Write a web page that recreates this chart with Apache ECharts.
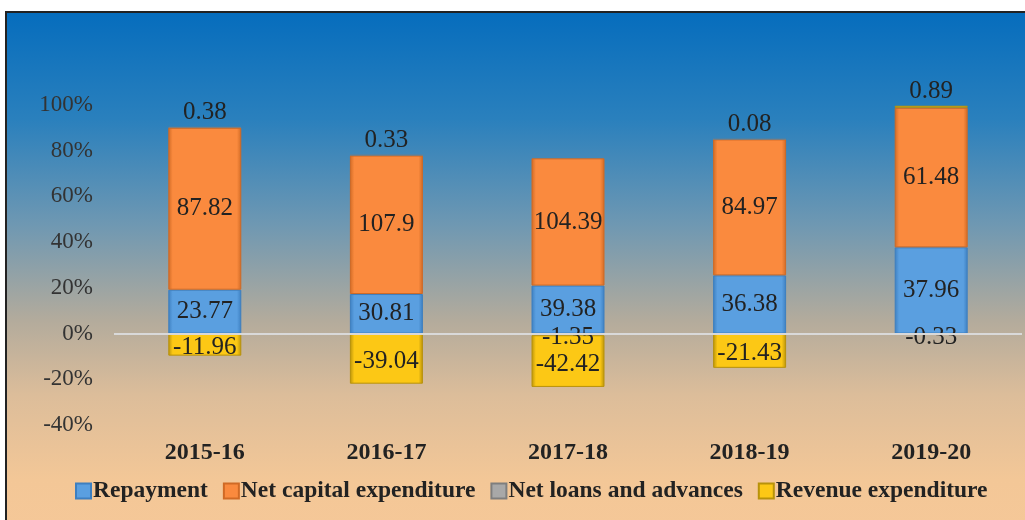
<!DOCTYPE html>
<html>
<head>
<meta charset="utf-8">
<script src="https://cdn.jsdelivr.net/npm/echarts@6/dist/echarts.min.js"></script>
<style>
    html, body { margin: 0; padding: 0; background: #fff; overflow: hidden; }
    .frame {
        position: absolute; left: 5px; top: 11px; width: 1040px; height: 530px;
        border: 2px solid #222;
        background: linear-gradient(to bottom, #066dbd 0%, #2a80bd 20%, #6f98b2 40%, #b3ab9c 58%, #dcbd9a 72%, #f3c797 88%, #f6c898 100%);
    }
    #chart { position: absolute; left: 0; top: 0; width: 1025px; height: 520px; }
</style>
</head>
<body>
<div class="frame"></div>
<div id="chart"></div>
<script>
    var years = ['2015-16', '2016-17', '2017-18', '2018-19', '2019-20'];
    var repayment = [23.77, 30.81, 39.38, 36.38, 37.96];
    var netCapital = [87.82, 107.9, 104.39, 84.97, 61.48];
    var netLoans = [0.38, 0.33, -1.35, 0.08, -0.33];
    var revenue = [-11.96, -39.04, -42.42, -21.43, 0.89];
    var yTicks = [-40, -20, 0, 20, 40, 60, 80, 100];

    // 100% stacked: each value as share of the column's absolute total
    var totals = years.map(function(y, i) {
        return Math.abs(repayment[i]) + Math.abs(netCapital[i]) + Math.abs(netLoans[i]) + Math.abs(revenue[i]);
    });
    function toShare(arr, small) {
        return arr.map(function(v, i) {
            var item = { value: v / totals[i] * 100, raw: v };
            if (small) {
                item.label = v >= 0 ? { position: 'top', distance: 2 } : { position: 'inside', offset: [0, 3] };
            }
            return item;
        });
    }

    var font = '"Liberation Serif", "Times New Roman", serif';
    var labelStyle = {
        show: true,
        position: 'inside',
        fontFamily: font,
        fontSize: 25,
        color: '#222',
        formatter: function(p) { return p.data.raw; }
    };

    function bar(name, data, color, border, small) {
        return {
            name: name,
            type: 'bar',
            stack: 'total',
            barWidth: 73,
            data: toShare(data, small),
            label: labelStyle,
            itemStyle: {
                color: {
                    type: 'linear', x: 0, y: 0, x2: 1, y2: 0,
                    colorStops: [
                        { offset: 0, color: border },
                        { offset: 0.06, color: color },
                        { offset: 0.94, color: color },
                        { offset: 1, color: border }
                    ]
                },
                borderColor: border,
                borderWidth: 1
            }
        };
    }

    var myChart = echarts.init(document.getElementById('chart'));
    var option = {
        backgroundColor: 'transparent',
        animation: false,
        grid: { left: 114, right: 3, top: 105, bottom: 95 },
        legend: {
            bottom: 12,
            left: 70,
            itemWidth: 15,
            itemHeight: 15,
            itemGap: 15,
            icon: 'rect',
            textStyle: { fontFamily: font, fontSize: 23.5, fontWeight: 'bold', color: '#222', padding: [0, 0, 0, -3] },
            data: ['Repayment', 'Net capital expenditure', 'Net loans and advances', 'Revenue expenditure']
        },
        xAxis: {
            type: 'category',
            data: years,
            axisLine: { show: false },
            axisTick: { show: false },
            axisLabel: { fontFamily: font, fontSize: 24, fontWeight: 'bold', color: '#222', margin: 16 }
        },
        yAxis: {
            type: 'value',
            min: yTicks[0],
            max: yTicks[yTicks.length - 1],
            interval: 20,
            splitLine: { show: false },
            axisLine: { show: false },
            axisTick: { show: false },
            axisLabel: { fontFamily: font, fontSize: 23, color: '#333', margin: 21, formatter: '{value}%' }
        },
        series: [
            bar('Repayment', repayment, '#5a9fe0', '#3d7fc0', false),
            bar('Net capital expenditure', netCapital, '#fa8a3e', '#d06a25', false),
            bar('Net loans and advances', netLoans, '#a8a8a8', '#7e7e7e', true),
            bar('Revenue expenditure', revenue, '#fcc815', '#b8920a', true)
        ]
    };
    option.series[0].markLine = {
        silent: true,
        symbol: 'none',
        label: { show: false },
        lineStyle: { color: '#d9d9d9', width: 2, type: 'solid' },
        data: [{ yAxis: 0 }]
    };
    myChart.setOption(option);
</script>
</body>
</html>
